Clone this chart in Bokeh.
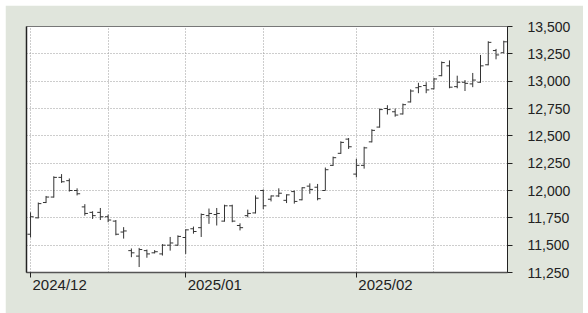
import pandas as pd
from bokeh.plotting import figure
from bokeh.layouts import column, row
from bokeh.models import (ColumnDataSource, FixedTicker, Range1d, LinearAxis,
                          NumeralTickFormatter, Spacer)
from bokeh.embed import file_html
from bokeh.resources import INLINE

# ---- data -------------------------------------------------------------
first_day = "2024-12-02"
last_day = "2025-02-28"
holidays = ["2024-12-25", "2024-12-26", "2025-01-01"]

opens = [11600, 11750, 11890, 11940, 12120, 12090, 12000, 11850, 11800, 11800,
         11760, 11720, 11620, 11450, 11400, 11450, 11430, 11420, 11500, 11500,
         11570, 11650, 11660, 11770, 11780, 11720, 11860, 11680, 11770, 11795,
         12000, 11920, 11950, 11910, 11990, 11915, 12040, 12030, 12000, 12230,
         12340, 12470, 12150, 12230, 12445, 12580, 12750, 12720, 12700, 12810,
         12940, 12960, 12930, 13050, 13140, 12950, 12990, 12975, 12990, 13150,
         13280, 13260]
highs = [11800, 11890, 11950, 12130, 12150, 12110, 12020, 11875, 11810, 11840,
         11780, 11730, 11665, 11470, 11475, 11460, 11455, 11510, 11575, 11590,
         11645, 11670, 11790, 11835, 11840, 11870, 11870, 11700, 11825, 11955,
         12010, 11955, 12020, 11965, 12000, 12030, 12065, 12060, 12210, 12310,
         12450, 12480, 12290, 12400, 12560, 12750, 12780, 12750, 12795, 12925,
         12985, 12990, 13030, 13180, 13190, 13050, 13010, 13075, 13240, 13365,
         13295, 13370]
lows = [11570, 11745, 11885, 11935, 12070, 11990, 11955, 11770, 11740, 11730,
        11710, 11590, 11560, 11390, 11300, 11385, 11425, 11405, 11450, 11495,
        11420, 11605, 11575, 11695, 11680, 11715, 11710, 11635, 11755, 11790,
        11830, 11900, 11940, 11885, 11880, 11910, 11970, 11910, 12000, 12225,
        12335, 12380, 12120, 12200, 12440, 12575, 12695, 12675, 12695, 12805,
        12890, 12890, 12925, 13045, 12935, 12935, 12910, 12945, 12985, 13145,
        13200, 13255]
closes = [11760, 11880, 11940, 12120, 12080, 12000, 11970, 11790, 11770, 11760,
          11730, 11600, 11630, 11430, 11460, 11420, 11440, 11500, 11520, 11580,
          11640, 11625, 11780, 11790, 11790, 11860, 11720, 11660, 11790, 11930,
          11860, 11950, 11975, 11960, 11900, 12025, 12010, 11925, 12190, 12300,
          12440, 12400, 12230, 12390, 12550, 12740, 12740, 12690, 12785, 12910,
          12950, 12920, 13020, 13170, 12945, 12990, 12980, 13010, 13140, 13355,
          13240, 13360]
y_ticks = [11250, 11500, 11750, 12000, 12250, 12500, 12750, 13000, 13250, 13500]

# ---- derived ----------------------------------------------------------
dates = [d for d in pd.bdate_range(first_day, last_day)
         if d.strftime("%Y-%m-%d") not in holidays]
idx = list(range(len(dates)))
month_idx = [i for i, d in enumerate(dates) if i == 0 or d.month != dates[i - 1].month]
mid_idx = []
for m in month_idx:
    for i in range(m, len(dates)):
        if dates[i].month == dates[m].month and dates[i].day >= 16:
            mid_idx.append(i)
            break
grid_idx = sorted(month_idx + mid_idx)

w = 0.4
src = ColumnDataSource(dict(
    x=idx, xl=[i - w for i in idx], xr=[i + w for i in idx],
    o=opens, h=highs, l=lows, c=closes))

BG = "#E0E5DC"
FRAME_W, FRAME_H = 481, 246
x0, x1 = -0.52, len(idx) - 0.52
y0, y1 = y_ticks[0], y_ticks[-1]
p = figure(width=578, height=308, output_backend="svg", toolbar_location=None,
           x_range=Range1d(x0, x1), y_range=Range1d(y0, y1),
           y_axis_location="right", min_border_left=21, min_border_top=21,
           min_border_right=578 - 21 - FRAME_W, min_border_bottom=308 - 21 - FRAME_H)
p.background_fill_color = "white"
p.border_fill_color = BG
p.outline_line_color = "#777777"
p.outline_line_width = 1

color = "#333333"
p.segment(x0="x", y0="l", x1="x", y1="h", source=src, line_color=color, line_width=1)
p.segment(x0="xl", y0="o", x1="x", y1="o", source=src, line_color=color, line_width=1)
p.segment(x0="x", y0="c", x1="xr", y1="c", source=src, line_color=color, line_width=1)

font = "Liberation Sans"
# right y axis
ya = p.yaxis[0]
ya.ticker = FixedTicker(ticks=y_ticks)
ya.formatter = NumeralTickFormatter(format="0,0")
ya.major_tick_out = 5
ya.major_tick_in = 0
ya.minor_tick_line_color = None
ya.axis_line_color = "#222222"
ya.major_tick_line_color = "#222222"
ya.major_label_standoff = 15
ya.major_label_text_font = font
ya.major_label_text_font_size = "14px"
ya.major_label_text_color = "#222222"

# bottom x axis: tick marks at month starts
xa = p.xaxis[0]
xa.ticker = FixedTicker(ticks=month_idx)
xa.major_label_overrides = {i: "" for i in month_idx}
xa.major_label_text_font_size = "1px"
xa.major_label_standoff = 0
xa.major_tick_out = 5
xa.major_tick_in = 0
xa.minor_tick_line_color = None
xa.axis_line_color = "#555555"
xa.axis_line_width = 1.5
xa.major_tick_line_color = "#222222"

# second bottom axis carrying the month labels, left-aligned at each tick
label_size = 15
label_w_px = 6 * 0.556 * label_size + 0.278 * label_size
px_per_unit = FRAME_W / (x1 - x0)
shift = (label_w_px / 2 + 2) / px_per_unit
centers = [i + shift for i in month_idx]
xb = LinearAxis(ticker=FixedTicker(ticks=centers),
                major_label_overrides={c: dates[i].strftime("%Y/%m")
                                       for c, i in zip(centers, month_idx)},
                axis_line_color=None, major_tick_line_color=None,
                minor_tick_line_color=None, major_label_standoff=-8,
                major_label_text_font=font,
                major_label_text_font_size=f"{label_size}px",
                major_label_text_color="#222222")
p.add_layout(xb, "below")

# left edge line
la = LinearAxis(ticker=FixedTicker(ticks=[]), axis_line_color="#222222",
                axis_line_width=1.5, major_label_text_font_size="0px",
                major_tick_line_color=None, minor_tick_line_color=None)
p.add_layout(la, "left")

p.ygrid.ticker = FixedTicker(ticks=y_ticks)
p.xgrid.ticker = FixedTicker(ticks=grid_idx)
for g in (p.xgrid, p.ygrid):
    g.grid_line_color = "#9a9a9a"
    g.grid_line_dash = "1 2"
    g.grid_line_width = 1

layout = column(Spacer(height=5), row(Spacer(width=5), p))
open("out.html", "w").write(file_html(layout, INLINE))
